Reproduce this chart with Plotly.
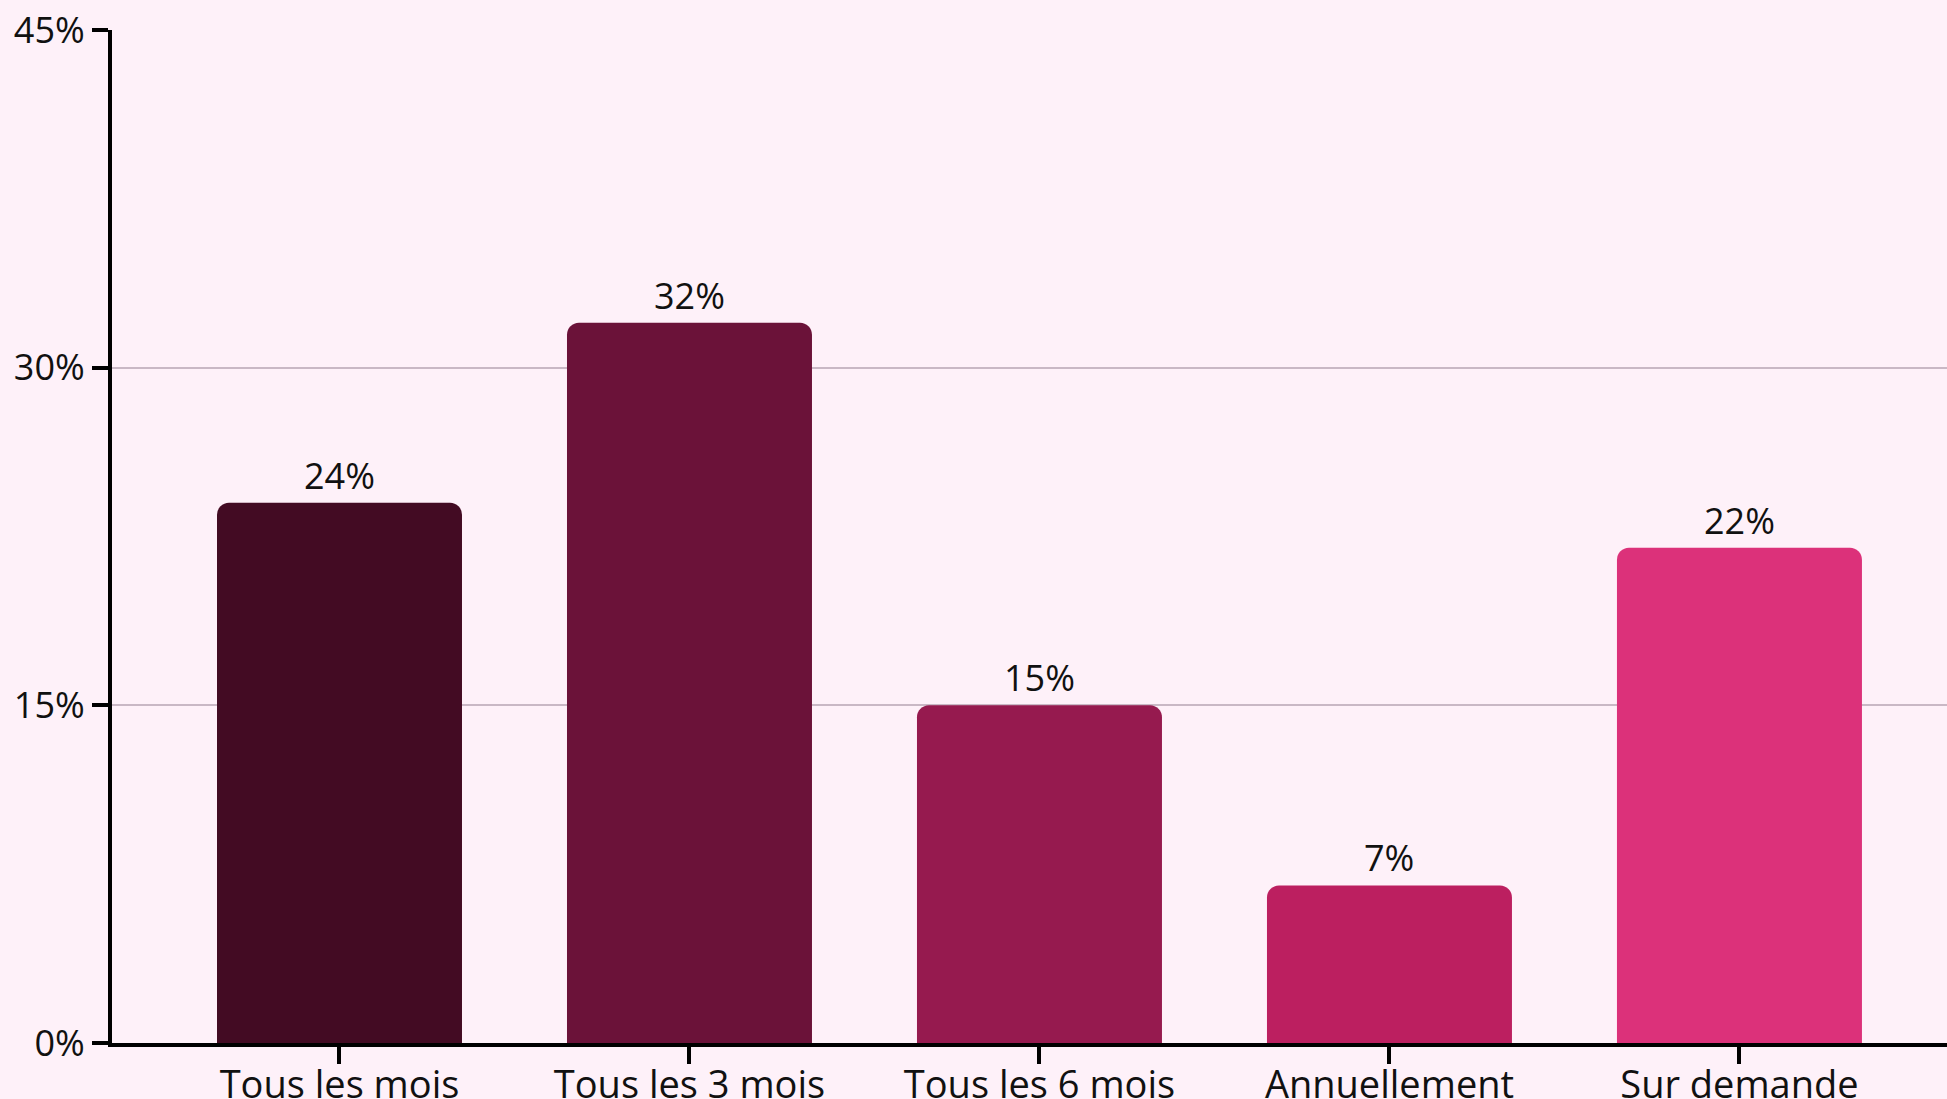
import plotly.graph_objects as go

# Survey answers: how often the review happens
categories = ["Tous les mois", "Tous les 3 mois", "Tous les 6 mois", "Annuellement", "Sur demande"]
shares = [24, 32, 15, 7, 22]
bar_colors = ["#430b23", "#6b1239", "#961a4f", "#bc1f60", "#dc317a"]
y_ticks = [0, 15, 30, 45]
y_tick_labels = ["0%", "15%", "30%", "45%"]

FONT = "Open Sans"
BG = "#fef1f9"
INK = "#111111"

fig = go.Figure()
fig.add_trace(
    go.Bar(
        x=categories,
        y=shares,
        width=0.7,
        marker=dict(color=bar_colors, line=dict(width=0), cornerradius=12),
        hoverinfo="skip",
    )
)

# value labels above each bar
for cat, val in zip(categories, shares):
    fig.add_annotation(
        x=cat, y=val, text=f"{val}%", showarrow=False,
        xanchor="center", yanchor="bottom", yshift=1,
        font=dict(family=FONT, size=36, color=INK),
    )

fig.update_layout(
    width=1947, height=1099,
    margin=dict(l=112, r=0, t=30, b=56),
    paper_bgcolor=BG, plot_bgcolor=BG,
    showlegend=False,
    font=dict(family=FONT, size=36, color=INK),
)
fig.update_xaxes(
    type="category",
    range=[-0.65, 4.593],
    automargin=False,
    showline=True, linecolor="#000000", linewidth=4,
    ticks="outside", ticklen=17, tickwidth=4, tickcolor="#000000",
    ticklabelstandoff=-12,
    showgrid=False,
    tickfont=dict(family=FONT, size=38, color=INK),
)
fig.update_yaxes(
    range=[0, 45],
    automargin=False,
    tickvals=y_ticks, ticktext=y_tick_labels,
    showline=True, linecolor="#000000", linewidth=4,
    ticks="outside", ticklen=16, tickwidth=4, tickcolor="#000000",
    showgrid=True, gridcolor="#c9b8c5", gridwidth=2,
    zeroline=False,
    tickfont=dict(family=FONT, size=36, color=INK),
)

fig.write_html("out.html")
